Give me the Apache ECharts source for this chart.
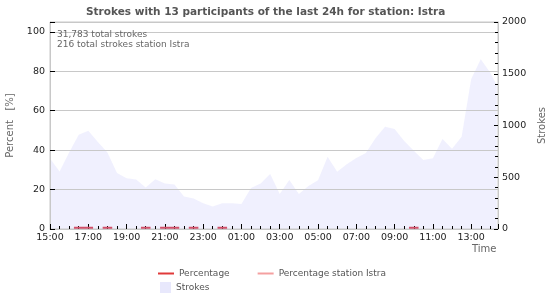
<!DOCTYPE html>
<html>
<head>
<meta charset="utf-8">
<script src="https://cdn.jsdelivr.net/npm/echarts@6/dist/echarts.min.js"></script>
<style>
  html, body { margin: 0; padding: 0; background: #fff; }
  #chart { width: 550px; height: 300px; }
</style>
</head>
<body>
<div id="chart"></div>
<script>
// strokes per interval (right axis)
const times = [
  '15:00', '15:30', '16:00', '16:30', '17:00', '17:30', '18:00', '18:30',
  '19:00', '19:30', '20:00', '20:30', '21:00', '21:30', '22:00', '22:30',
  '23:00', '23:30', '00:00', '00:30', '01:00', '01:30', '02:00', '02:30',
  '03:00', '03:30', '04:00', '04:30', '05:00', '05:30', '06:00', '06:30',
  '07:00', '07:30', '08:00', '08:30', '09:00', '09:30', '10:00', '10:30',
  '11:00', '11:30', '12:00', '12:30', '13:00', '13:30', '14:00', '14:20'
];
const strokes = [
  680, 555, 740, 910, 950, 840, 740, 540,
  490, 478, 400, 480, 440, 430, 315, 295,
  250, 218, 248, 248, 241, 395, 440, 531,
  338, 473, 338, 415, 470, 699, 553, 625,
  685, 735, 876, 988, 965, 850, 755, 667,
  683, 870, 775, 892, 1450, 1640, 1510, 1390
];

// percentage of strokes seen by the station (left axis), null = no line
const pctTimes = [
  '16:15', '16:45', '17:15', '17:30', '17:45', '18:15', '18:30',
  '19:45', '20:15', '20:30', '20:45', '21:15', '21:45', '22:00',
  '22:15', '22:45', '23:00', '23:45', '00:15', '00:30', '09:45', '10:15'
];
const pctStation = [
  0.6, 0.6, 0.6, null, 0.6, 0.6, null,
  0.6, 0.6, null, 0.6, 0.6, 0.6, null,
  0.6, 0.6, null, 0.6, 0.6, null, 0.6, 0.6
];
const pctAll = [];

const titleText = 'Strokes with 13 participants of the last 24h for station: Istra';
const infoLines = ['31,783 total strokes', '216 total strokes station Istra'];

// hours elapsed since 15:00
function toHours(s) {
  const [h, m] = s.split(':').map(Number);
  return ((h - 15 + 24) % 24) + m / 60;
}
function hourLabel(v) {
  if (Math.abs(v - Math.round(v)) > 1e-6 || Math.round(v) % 2 !== 0) return '';
  const h = (15 + Math.round(v)) % 24;
  return String(h).padStart(2, '0') + ':00';
}

const FONT = 'DejaVu Sans';
const chart = echarts.init(document.getElementById('chart'));

chart.setOption({
  animation: false,
  textStyle: { fontFamily: FONT },
  title: {
    text: titleText,
    left: 81,
    top: 2,
    textStyle: { fontSize: 10.5, fontWeight: 'bold', color: '#555', fontFamily: FONT }
  },
  legend: [{
    left: 153,
    top: 264,
    itemWidth: 16,
    itemHeight: 2,
    itemGap: 28,
    icon: 'rect',
    textStyle: { fontSize: 9, color: '#555' },
    data: ['Percentage', 'Percentage station Istra']
  }, {
    left: 155,
    top: 277,
    itemWidth: 11,
    itemHeight: 11,
    icon: 'rect',
    textStyle: { fontSize: 9, color: '#555' },
    data: ['Strokes']
  }],
  grid: {
    left: 50,
    right: 52,
    top: 22,
    bottom: 71,
    outerBoundsMode: 'none',
    containLabel: false,
    show: true,
    borderColor: '#c8c8c8',
    borderWidth: 1
  },
  graphic: [{
    type: 'text',
    left: 57,
    top: 30,
    z: 100,
    style: { text: infoLines.join('\n'), font: '9px "DejaVu Sans"', fill: '#666', lineHeight: 10 }
  }, {
    type: 'text',
    left: 472,
    top: 244,
    style: { text: 'Time', font: '10px "DejaVu Sans"', fill: '#666' }
  }],
  xAxis: [{
    type: 'value',
    position: 'bottom',
    min: 0,
    max: 23.4,
    interval: 0.5,
    axisLine: { show: true, onZero: false, lineStyle: { color: '#c8c8c8' } },
    axisTick: { show: true, inside: true, length: 3, lineStyle: { color: '#000' } },
    axisLabel: { formatter: hourLabel, fontSize: 9.5, color: '#222', margin: 4, showMaxLabel: false },
    splitLine: { show: false }
  }, {
    type: 'value',
    position: 'bottom',
    min: 0,
    max: 23.4,
    interval: 2,
    axisLine: { show: false, onZero: false },
    axisTick: { show: true, inside: true, length: 5, lineStyle: { color: '#000' } },
    axisLabel: { show: false },
    splitLine: { show: false }
  }],
  yAxis: [{
    type: 'value',
    position: 'left',
    min: 0,
    max: 105,
    interval: 20,
    name: 'Percent   [%]',
    nameLocation: 'middle',
    nameGap: 35,
    nameTextStyle: { fontSize: 10, color: '#666' },
    axisLine: { show: true, onZero: false, lineStyle: { color: '#c8c8c8' } },
    axisTick: { show: true, inside: true, length: 5, lineStyle: { color: '#000' } },
    minorTick: { show: false },
    axisLabel: {
      fontSize: 9.5, color: '#222', margin: 5,
      formatter: (v) => (v % 20 === 0 ? String(v) : '')
    },
    splitLine: { show: true, lineStyle: { color: '#c8c8c8' } }
  }, {
    type: 'value',
    position: 'right',
    min: 0,
    max: 2000,
    interval: 500,
    name: 'Strokes',
    nameLocation: 'middle',
    nameGap: 38,
    nameTextStyle: { fontSize: 10, color: '#666' },
    axisLine: { show: true, onZero: false, lineStyle: { color: '#c8c8c8' } },
    axisTick: { show: true, inside: true, length: 4, lineStyle: { color: '#000' } },
    minorTick: { show: true, splitNumber: 5, length: 3, lineStyle: { color: '#000' } },
    axisLabel: { fontSize: 9.5, color: '#222', margin: 4, formatter: (v) => String(v) },
    splitLine: { show: false }
  }],
  series: [{
    name: 'Strokes',
    type: 'line',
    yAxisIndex: 1,
    z: -1,
    symbol: 'none',
    itemStyle: { color: '#e8e8fc' },
    lineStyle: { width: 0, color: '#e8e8fc' },
    areaStyle: { color: 'rgba(205,205,250,0.42)' },
    data: times.map((t, i) => [toHours(t), strokes[i]])
  }, {
    name: 'Percentage',
    type: 'line',
    symbol: 'none',
    itemStyle: { color: '#e03a3a' },
    lineStyle: { width: 2, color: '#e03a3a' },
    data: pctAll
  }, {
    name: 'Percentage station Istra',
    type: 'line',
    symbol: 'none',
    connectNulls: false,
    itemStyle: { color: '#f4a0a0' },
    lineStyle: { width: 2, color: '#d0506a' },
    data: pctTimes.map((t, i) => [toHours(t), pctStation[i]])
  }]
});
</script>
</body>
</html>
